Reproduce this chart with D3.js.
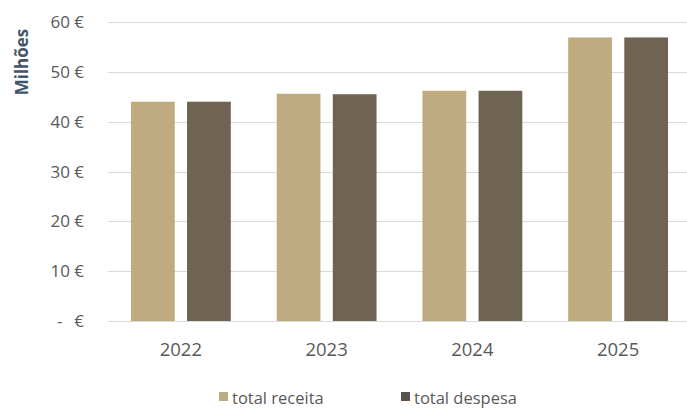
<!DOCTYPE html>
<html>
<head>
<meta charset="utf-8">
<script src="https://cdn.jsdelivr.net/npm/d3@7"></script>
<style>
  body { margin: 0; background: #fff; }
  text { font-family: "Open Sans", "Liberation Sans", sans-serif; fill: #595959; }
</style>
</head>
<body>
<div id="vis"></div>
<script>
// chart data
var years = ['2022', '2023', '2024', '2025'];
var seriesNames = ['total receita', 'total despesa'];
var receita = [44.0, 45.6, 46.2, 56.9];
var despesa = [44.0, 45.5, 46.2, 56.9];
var yTicks = [0, 10, 20, 30, 40, 50, 60];

var width = 687;
var height = 410;
var margin = { top: 22, right: -4, bottom: 89, left: 108 };

var colors = ['#c0aa80', '#6f6351'];
var legendColors = ['#b9ab84', '#58534d'];

var rows = years.map(function (y, i) {
  return { year: y, values: [receita[i], despesa[i]] };
});

var svg = d3.select('#vis')
  .append('svg')
  .attr('width', width)
  .attr('height', height);

var x0 = d3.scaleBand()
  .domain(years)
  .range([margin.left, width - margin.right])
  .paddingInner(0.315)
  .paddingOuter(0.1575);

var x1 = d3.scaleBand()
  .domain([0, 1])
  .range([0, x0.bandwidth()])
  .paddingInner(0.22);

var y = d3.scaleLinear()
  .domain([0, 60])
  .range([height - margin.bottom, margin.top]);

// gridlines
svg.append('g')
  .selectAll('line')
  .data(yTicks)
  .enter().append('line')
  .attr('x1', margin.left)
  .attr('x2', width)
  .attr('y1', function (d) { return Math.round(y(d)) + 0.5; })
  .attr('y2', function (d) { return Math.round(y(d)) + 0.5; })
  .attr('stroke', '#d9d9d9')
  .attr('stroke-width', 1);

// y axis labels (accounting style)
var yLab = svg.append('g');
yLab.selectAll('text.num')
  .data(yTicks)
  .enter().append('text')
  .attr('class', 'num')
  .attr('x', 84)
  .attr('y', function (d) { return y(d) + 6; })
  .attr('text-anchor', 'end')
  .style('font-size', '17px')
  .text(function (d) { return d === 0 ? '€' : d + ' €'; });
yLab.append('text')
  .attr('x', 57)
  .attr('y', y(0) + 6)
  .style('font-size', '17px')
  .text('-');

// axis title
svg.append('text')
  .attr('transform', 'translate(28,62) rotate(-90)')
  .attr('text-anchor', 'middle')
  .style('font-size', '17px')
  .style('font-weight', 'bold')
  .style('fill', '#44546a')
  .text('Milhões');

// bars
var groups = svg.selectAll('.grp')
  .data(rows)
  .enter().append('g')
  .attr('class', 'grp')
  .attr('transform', function (d) { return 'translate(' + x0(d.year) + ',0)'; });

groups.selectAll('rect')
  .data(function (d) { return d.values; })
  .enter().append('rect')
  .attr('x', function (d, i) { return x1(i); })
  .attr('width', x1.bandwidth())
  .attr('y', function (d) { return y(d); })
  .attr('height', function (d) { return y(0) - y(d); })
  .attr('fill', function (d, i) { return colors[i]; });

// x labels
svg.selectAll('.xl')
  .data(years)
  .enter().append('text')
  .attr('class', 'xl')
  .attr('x', function (d) { return x0(d) + x0.bandwidth() / 2; })
  .attr('y', 356)
  .attr('text-anchor', 'middle')
  .style('font-size', '18.5px')
  .text(function (d) { return d; });

// legend
var legendX = [219, 401];
var legend = svg.selectAll('.leg')
  .data(seriesNames)
  .enter().append('g')
  .attr('class', 'leg')
  .attr('transform', function (d, i) { return 'translate(' + legendX[i] + ',392)'; });

legend.append('rect')
  .attr('width', 9)
  .attr('height', 9)
  .attr('fill', function (d, i) { return legendColors[i]; });

legend.append('text')
  .attr('x', 13)
  .attr('y', 12)
  .style('font-size', '16.5px')
  .text(function (d) { return d; });
</script>
</body>
</html>
